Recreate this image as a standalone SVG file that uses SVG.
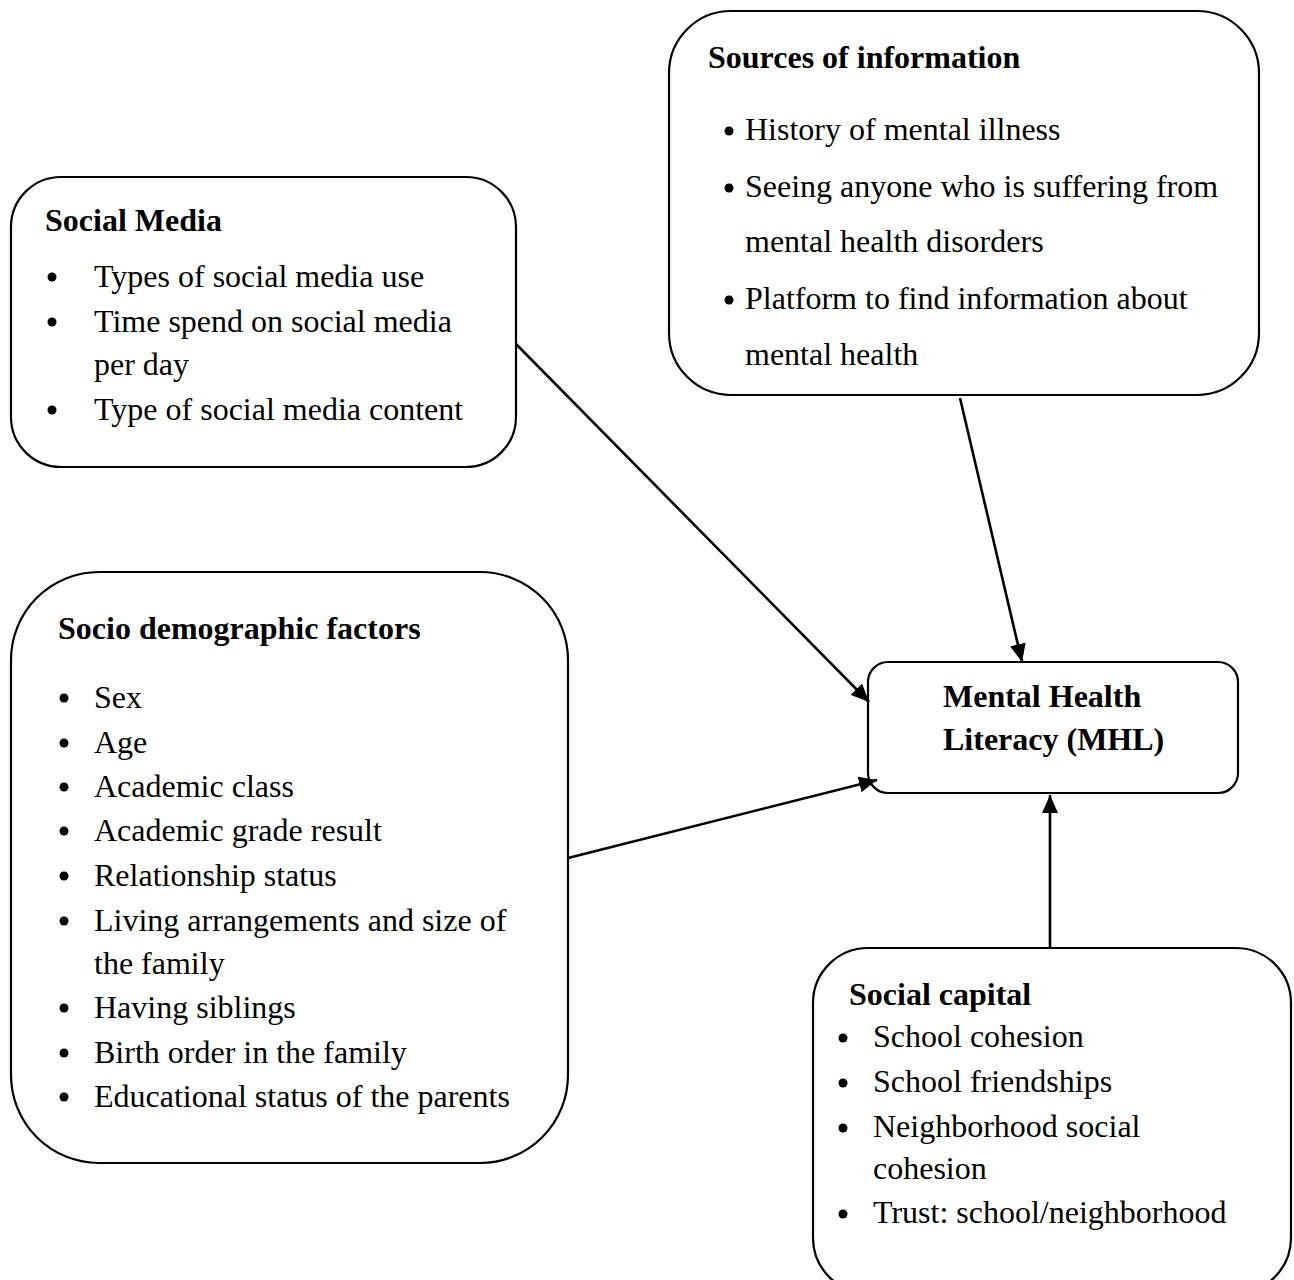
<svg xmlns="http://www.w3.org/2000/svg" width="1294" height="1280" viewBox="0 0 1294 1280">
<defs>
<style>
.box{fill:#fff;stroke:#000;stroke-width:2.2}
.t{font-family:"Liberation Serif","Times New Roman",serif;font-size:32px;fill:#000}
.b{font-weight:bold}
.conn line{stroke:#000;stroke-width:2.6}
.dot{fill:#000}
</style>
<marker id="ah" markerUnits="userSpaceOnUse" markerWidth="20" markerHeight="16" refX="18" refY="8" orient="auto">
<path d="M0,0 L18,8 L0,16 Z" fill="#000"/>
</marker>
</defs>
<rect width="1294" height="1280" fill="#fff"/>

<g id="sources">
<rect class="box" x="669" y="11" width="590" height="384" rx="62" ry="62"/>
<text class="t b" x="708" y="68">Sources of information</text>
<circle class="dot" cx="729" cy="131" r="4.5"/>
<text class="t" x="745" y="140">History of mental illness</text>
<circle class="dot" cx="729" cy="188" r="4.5"/>
<text class="t" x="745" y="197">Seeing anyone who is suffering from</text>
<text class="t" x="745" y="252">mental health disorders</text>
<circle class="dot" cx="729" cy="300" r="4.5"/>
<text class="t" x="745" y="309">Platform to find information about</text>
<text class="t" x="745" y="365">mental health</text>
</g>

<g id="social-media">
<rect class="box" x="11" y="177" width="505" height="290" rx="50" ry="50"/>
<text class="t b" x="45" y="231">Social Media</text>
<circle class="dot" cx="52" cy="277" r="4.5"/>
<text class="t" x="94" y="287">Types of social media use</text>
<circle class="dot" cx="52" cy="322" r="4.5"/>
<text class="t" x="94" y="332">Time spend on social media</text>
<text class="t" x="94" y="375">per day</text>
<circle class="dot" cx="52" cy="410" r="4.5"/>
<text class="t" x="94" y="420">Type of social media content</text>
</g>

<g id="socio-demographic">
<rect class="box" x="11" y="572" width="557" height="591" rx="88" ry="88"/>
<text class="t b" x="58" y="639">Socio demographic factors</text>
<g>
<circle class="dot" cx="64" cy="698" r="4.5"/>
<circle class="dot" cx="64" cy="743" r="4.5"/>
<circle class="dot" cx="64" cy="787" r="4.5"/>
<circle class="dot" cx="64" cy="831" r="4.5"/>
<circle class="dot" cx="64" cy="876" r="4.5"/>
<circle class="dot" cx="64" cy="921" r="4.5"/>
<circle class="dot" cx="64" cy="1008" r="4.5"/>
<circle class="dot" cx="64" cy="1053" r="4.5"/>
<circle class="dot" cx="64" cy="1097" r="4.5"/>
</g>
<text class="t" x="94" y="708">Sex</text>
<text class="t" x="94" y="753">Age</text>
<text class="t" x="94" y="797">Academic class</text>
<text class="t" x="94" y="841">Academic grade result</text>
<text class="t" x="94" y="886">Relationship status</text>
<text class="t" x="94" y="931">Living arrangements and size of</text>
<text class="t" x="94" y="974">the family</text>
<text class="t" x="94" y="1018">Having siblings</text>
<text class="t" x="94" y="1063">Birth order in the family</text>
<text class="t" x="94" y="1107">Educational status of the parents</text>
</g>

<g id="mhl">
<rect class="box" x="868" y="662" width="370" height="131" rx="20" ry="20"/>
<text class="t b" x="943" y="707">Mental Health</text>
<text class="t b" x="943" y="750">Literacy (MHL)</text>
</g>

<g id="social-capital">
<rect class="box" x="813" y="948" width="478" height="345" rx="55" ry="55"/>
<text class="t b" x="849" y="1005">Social capital</text>
<circle class="dot" cx="843" cy="1038" r="4.5"/>
<text class="t" x="873" y="1047">School cohesion</text>
<circle class="dot" cx="843" cy="1083" r="4.5"/>
<text class="t" x="873" y="1092">School friendships</text>
<circle class="dot" cx="843" cy="1128" r="4.5"/>
<text class="t" x="873" y="1137">Neighborhood social</text>
<text class="t" x="873" y="1179">cohesion</text>
<circle class="dot" cx="843" cy="1214" r="4.5"/>
<text class="t" x="873" y="1223">Trust: school/neighborhood</text>
</g>

<g id="connectors" class="conn">
<line x1="516" y1="344" x2="869" y2="702" marker-end="url(#ah)"/>
<line x1="960" y1="398" x2="1022" y2="662" marker-end="url(#ah)"/>
<line x1="568" y1="858" x2="877" y2="780" marker-end="url(#ah)"/>
<line x1="1050" y1="948" x2="1050" y2="795" marker-end="url(#ah)"/>
</g>
</svg>
